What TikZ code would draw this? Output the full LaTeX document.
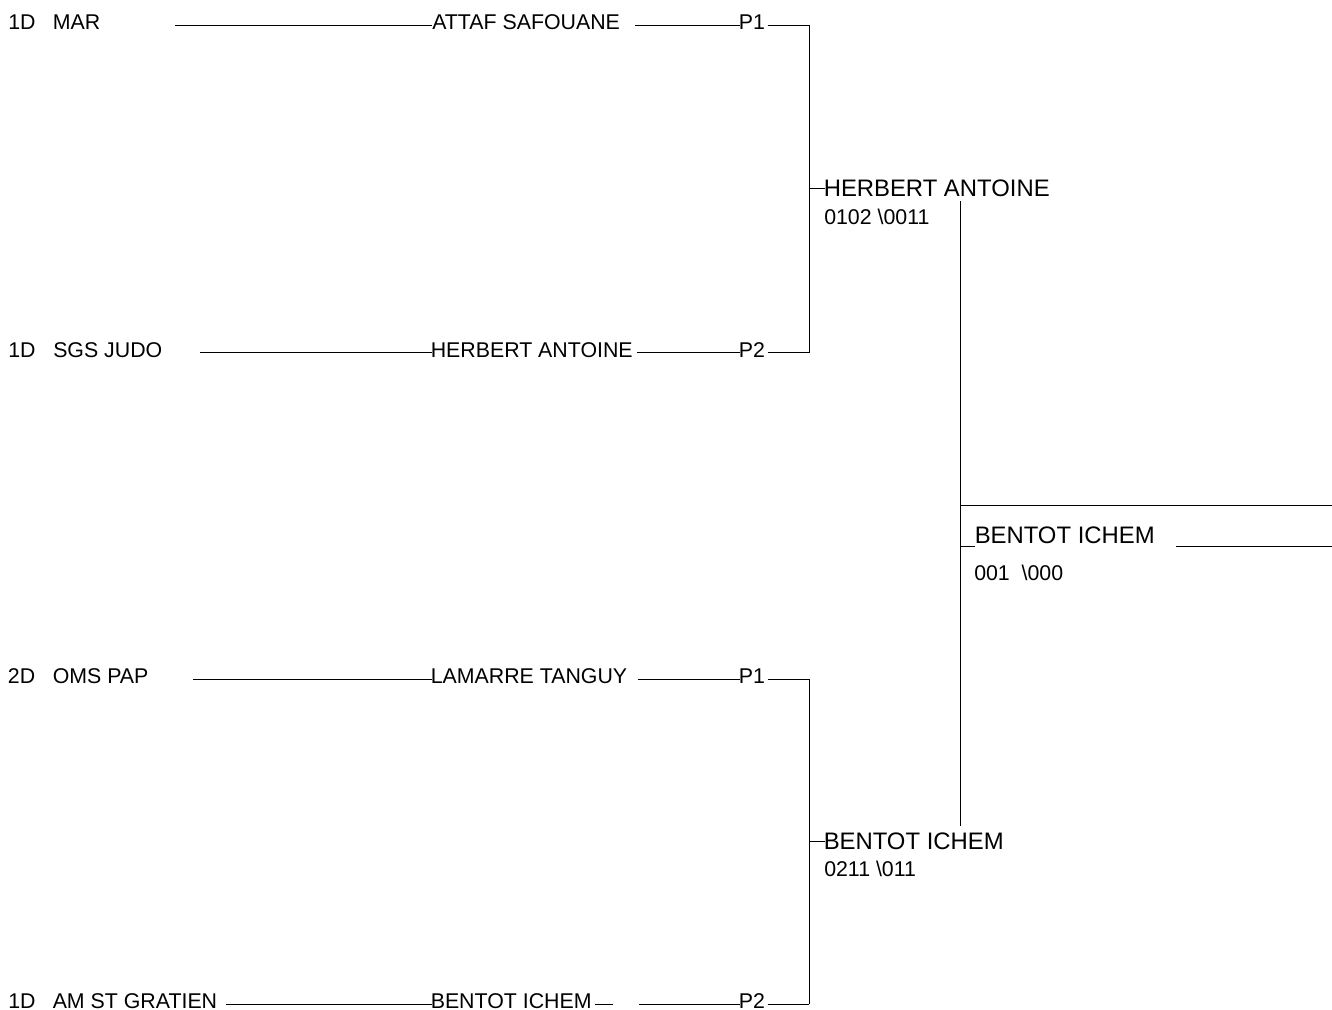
\documentclass[tikz,border=0pt]{standalone}
\usepackage{fontspec}
\setmainfont{Liberation Sans}
\begin{document}
\begin{tikzpicture}[x=0.75pt,y=-0.75pt,
  txt/.style={inner sep=0pt, anchor=base west, font=\fontsize{16}{18}\selectfont},
  big/.style={inner sep=0pt, anchor=base west, font=\fontsize{17.9}{20}\selectfont},
  ln/.style={line width=0.75pt, black}]
\useasboundingbox (0,0) rectangle (1332,1010);

% ---- row 1
\node[txt] (d1) at (8,29.5) {1D};
\node[txt] (c1) at (52.5,29.5) {MAR};
\node[txt] (n1) at (432,29.5) {ATTAF SAFOUANE};
\node[txt] (p1) at (738.5,29.5) {P1};
% ---- row 2
\node[txt] (d2) at (8,357) {1D};
\node[txt] (c2) at (53,357) {SGS JUDO};
\node[txt] (n2) at (430.5,357) {HERBERT ANTOINE};
\node[txt] (p2) at (738.5,357) {P2};
% ---- row 3
\node[txt] (d3) at (7.7,683.5) {2D};
\node[txt] (c3) at (52.5,683.5) {OMS PAP};
\node[txt] (n3) at (430.5,683.5) {LAMARRE TANGUY};
\node[txt] (p3) at (738.5,683.5) {P1};
% ---- row 4
\node[txt] (d4) at (8,1008) {1D};
\node[txt] (c4) at (52.5,1008) {AM ST GRATIEN};
\node[txt] (n4) at (430.5,1008) {BENTOT ICHEM};
\node[txt] (p4) at (738.5,1008) {P2};

% ---- round 2
\node[big] (w1) at (823.5,196) {HERBERT ANTOINE};
\node[txt] (s1) at (824,224) {0102 \textbackslash0011};
\node[big] (w2) at (823.5,849) {BENTOT ICHEM};
\node[txt] (s2) at (824,876.5) {0211 \textbackslash011};
% ---- final
\node[big] (f) at (974.5,543) {BENTOT ICHEM};
\node[txt] (sf) at (974,580) {001\ \ \textbackslash000};

% ---- coordinates
\coordinate (a1) at (175,25);   \coordinate (b1) at (432,25);
\coordinate (e1) at (635,25);   \coordinate (g1) at (740,25);
\coordinate (h1) at (767.5,25); \coordinate (k1) at (809,25);
\coordinate (a2) at (200,352.5);   \coordinate (b2) at (432,352.5);
\coordinate (e2) at (637,352.5);   \coordinate (g2) at (740,352.5);
\coordinate (h2) at (767.5,352.5); \coordinate (k2) at (809,352.5);
\coordinate (a3) at (193,679);   \coordinate (b3) at (432,679);
\coordinate (e3) at (637.5,679); \coordinate (g3) at (740,679);
\coordinate (h3) at (767.5,679); \coordinate (k3) at (809,679);
\coordinate (a4) at (225.5,1004);  \coordinate (b4) at (432,1004);
\coordinate (m4) at (595,1004);  \coordinate (q4) at (613,1004);
\coordinate (e4) at (639,1004);  \coordinate (g4) at (740,1004);
\coordinate (h4) at (767.5,1004); \coordinate (k4) at (809,1004);

\coordinate (t1a) at (809,188.5); \coordinate (t1b) at (825,188.5);
\coordinate (t2a) at (809,841);   \coordinate (t2b) at (825,841);
\coordinate (va) at (960,201);    \coordinate (vb) at (960,826);
\coordinate (ra) at (960,505.5);  \coordinate (rb) at (1332,505.5);
\coordinate (fa) at (960,546);    \coordinate (fb) at (975,546);
\coordinate (fc) at (1176,546);   \coordinate (fd) at (1332,546);

% ---- connectors
\foreach \i in {1,2,3,4}{
  \draw[ln] (a\i) -- (b\i);
  \draw[ln] (e\i) -- (g\i);
  \draw[ln] (h\i) -- (k\i);
}
\draw[ln] (m4) -- (q4);
\draw[ln] (k1) -- (k2);
\draw[ln] (k3) -- (k4);
\draw[ln] (t1a) -- (t1b);
\draw[ln] (t2a) -- (t2b);
\draw[ln] (va) -- (vb);
\draw[ln] (ra) -- (rb);
\draw[ln] (fa) -- (fb);
\draw[ln] (fc) -- (fd);
\end{tikzpicture}
\end{document}
